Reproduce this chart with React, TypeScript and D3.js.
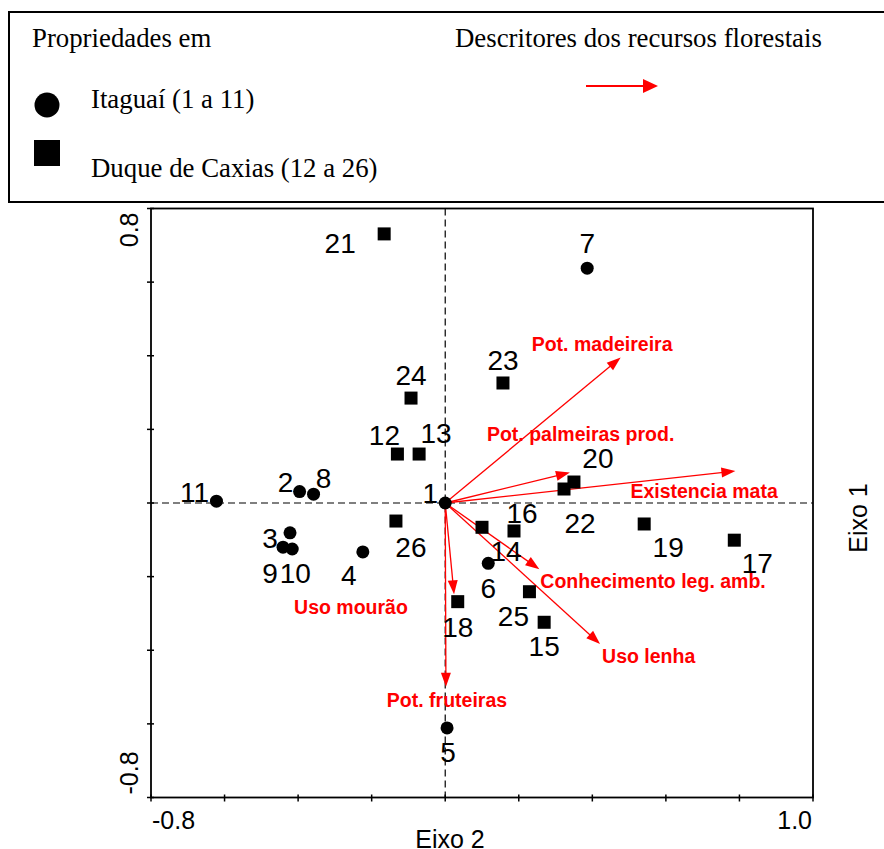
import React from "react";
import * as d3 from "d3";

// ---------- Data ----------
const itaguaiIds = [1, 2, 3, 4, 5, 6, 7, 8, 9, 10, 11];
const itaguaiX = [0.0, -0.396, -0.422, -0.224, 0.005, 0.117, 0.386, -0.358, -0.441, -0.416, -0.622];
const itaguaiY = [0.0, 0.031, -0.081, -0.133, -0.611, -0.164, 0.638, 0.024, -0.12, -0.125, 0.005];

const caxiasIds = [12, 13, 14, 15, 16, 17, 18, 19, 20, 21, 22, 23, 24, 25, 26];
const caxiasX = [-0.13, -0.071, 0.1, 0.269, 0.187, 0.786, 0.034, 0.541, 0.35, -0.166, 0.323, 0.157, -0.093, 0.229, -0.134];
const caxiasY = [0.133, 0.133, -0.066, -0.324, -0.076, -0.101, -0.268, -0.057, 0.057, 0.731, 0.038, 0.326, 0.285, -0.241, -0.049];

const descriptorNames = [
  "Pot. madeireira",
  "Pot. palmeiras prod.",
  "Existencia mata",
  "Conhecimento leg. amb.",
  "Uso lenha",
  "Pot. fruteiras",
  "Uso mourão",
];
const descriptorX = [0.477, 0.339, 0.789, 0.256, 0.421, 0.002, 0.024];
const descriptorY = [0.395, 0.083, 0.087, -0.18, -0.383, -0.499, -0.248];

const xTickLabels = ["-0.8", "1.0"];
const yTickLabels = ["0.8", "-0.8"];

const legendTitleLeft = "Propriedades em";
const legendTitleRight = "Descritores dos recursos florestais";
const legendItaguai = "Itaguaí (1 a 11)";
const legendCaxias = "Duque de Caxias (12 a 26)";
const xAxisTitle = "Eixo 2";
const yAxisTitle = "Eixo 1";

// ---------- Layout (label offsets in px, relative to the mark) ----------
const pointLabelOffsets: Record<number, [number, number]> = {
  1: [-15, 0], 2: [-14, 0], 3: [-20, 15], 4: [-14, 33], 5: [1, 34], 6: [0, 35],
  7: [0, -15], 8: [10, -6], 9: [-13, 36], 10: [3, 34], 11: [-22, 1],
  12: [-13, -9], 13: [17, -11], 14: [24, 34], 15: [0, 34], 16: [8, -8],
  17: [23, 33], 18: [0, 35], 19: [24, 33], 20: [24, -14], 21: [-44, 19],
  22: [16, 44], 23: [0, -13], 24: [0, -13], 25: [-16, 34], 26: [15, 36],
};
const descLabelLayout: [number, number, "start" | "middle"][] = [
  [-89, -7, "start"],
  [-83, -31, "start"],
  [-105, 27, "start"],
  [1, 19, "start"],
  [2, 19, "start"],
  [1, 20, "middle"],
  [-160, 20, "start"],
];

const W = 884;
const H = 849;
const left = 151, right = 813, top = 208.5, bottom = 797.5;
const RED = "#ff0000";
const SANS = "'Liberation Sans', Arial, sans-serif";
const SERIF = "'Liberation Serif', 'Times New Roman', serif";
const LEGEND_FS = 26.8;

function arrowHead(x0: number, y0: number, x1: number, y1: number, len = 14, half = 5) {
  const a = Math.atan2(y1 - y0, x1 - x0);
  const bx = x1 - len * Math.cos(a), by = y1 - len * Math.sin(a);
  const px = -Math.sin(a) * half, py = Math.cos(a) * half;
  return `M${x1},${y1}L${bx + px},${by + py}L${bx - px},${by - py}Z`;
}

export default function App() {
  const x = d3.scaleLinear().domain([-0.8, 1.0]).range([left, right]);
  const y = d3.scaleLinear().domain([-0.8, 0.8]).range([bottom, top]);
  const xTicks = d3.range(0, 10).map((i) => -0.8 + i * 0.2);
  const yTicks = d3.range(0, 9).map((i) => -0.8 + i * 0.2);

  const circles = itaguaiIds.map((id, i) => ({ id, cx: x(itaguaiX[i]), cy: y(itaguaiY[i]) }));
  const squares = caxiasIds.map((id, i) => ({ id, cx: x(caxiasX[i]), cy: y(caxiasY[i]) }));
  const x0 = x(0), y0 = y(0);

  return (
    <svg
      width={W}
      height={H}
      style={{ position: "absolute", left: 0, top: 0, background: "#fff" }}
      xmlns="http://www.w3.org/2000/svg"
    >
      <rect x={0} y={0} width={W} height={H} fill="#fff" />
      {/* Legend box */}
      <rect x={9} y={12} width={900} height={190} fill="none" stroke="#000" strokeWidth={2} />
      <text x={32} y={47} fontFamily={SERIF} fontSize={LEGEND_FS} fill="#000">{legendTitleLeft}</text>
      <text x={455} y={47} fontFamily={SERIF} fontSize={LEGEND_FS} fill="#000">{legendTitleRight}</text>
      <circle cx={47} cy={105} r={12.5} fill="#000" />
      <text x={91} y={108} fontFamily={SERIF} fontSize={LEGEND_FS} fill="#000">{legendItaguai}</text>
      <rect x={34} y={140} width={26} height={26} fill="#000" />
      <text x={91} y={177} fontFamily={SERIF} fontSize={LEGEND_FS} fill="#000">{legendCaxias}</text>
      <line x1={586} y1={86} x2={646} y2={86} stroke={RED} strokeWidth={2} />
      <path d={arrowHead(586, 86, 658, 86, 15, 7)} fill={RED} />

      {/* Zero dashed lines */}
      <line x1={left} x2={right} y1={y0} y2={y0} stroke="#000" strokeWidth={1.2} strokeDasharray="7,4" />
      <line x1={x0} x2={x0} y1={top} y2={bottom} stroke="#000" strokeWidth={1.2} strokeDasharray="7,4" />

      {/* Frame */}
      <rect x={left} y={top} width={right - left} height={bottom - top} fill="none" stroke="#000" strokeWidth={1.8} />
      {xTicks.map((t, i) => (
        <line key={"xt" + i} x1={x(t)} x2={x(t)} y1={bottom - 3} y2={bottom + 4} stroke="#000" strokeWidth={1.5} />
      ))}
      {yTicks.map((t, i) => (
        <line key={"yt" + i} x1={left - 4} x2={left + 3} y1={y(t)} y2={y(t)} stroke="#000" strokeWidth={1.5} />
      ))}
      <text x={left + 1} y={829} fontFamily={SANS} fontSize={25} textAnchor="start">{xTickLabels[0]}</text>
      <text x={right - 1} y={829} fontFamily={SANS} fontSize={25} textAnchor="end">{xTickLabels[1]}</text>
      <text transform={`translate(138,${top + 4}) rotate(-90)`} fontFamily={SANS} fontSize={25} textAnchor="end">{yTickLabels[0]}</text>
      <text transform={`translate(138,${bottom - 3}) rotate(-90)`} fontFamily={SANS} fontSize={25} textAnchor="start">{yTickLabels[1]}</text>
      <text x={450} y={848} fontFamily={SANS} fontSize={25} textAnchor="middle">{xAxisTitle}</text>
      <text transform={`translate(867,518) rotate(-90)`} fontFamily={SANS} fontSize={25} textAnchor="middle">{yAxisTitle}</text>

      {/* Descriptor arrows */}
      {descriptorNames.map((name, i) => {
        const tx = x(descriptorX[i]), ty = y(descriptorY[i]);
        const a = Math.atan2(ty - y0, tx - x0);
        const ex = tx - 12 * Math.cos(a), ey = ty - 12 * Math.sin(a);
        const [dx, dy, anchor] = descLabelLayout[i];
        return (
          <g key={name}>
            <line x1={x0} y1={y0} x2={ex} y2={ey} stroke={RED} strokeWidth={1.3} />
            <path d={arrowHead(x0, y0, tx, ty, 14, 5)} fill={RED} />
            <text x={tx + dx} y={ty + dy} fontFamily={SANS} fontSize={19.5} fontWeight="bold" fill={RED} textAnchor={anchor}>{name}</text>
          </g>
        );
      })}

      {/* Points */}
      {circles.map((p) => (
        <circle key={"c" + p.id} cx={p.cx} cy={p.cy} r={6.5} fill="#000" />
      ))}
      {squares.map((p) => (
        <rect key={"s" + p.id} x={p.cx - 6.5} y={p.cy - 6.5} width={13} height={13} fill="#000" />
      ))}
      {[...circles, ...squares].map((p) => {
        const [dx, dy] = pointLabelOffsets[p.id];
        return (
          <text key={"l" + p.id} x={p.cx + dx} y={p.cy + dy} fontFamily={SANS} fontSize={28} textAnchor="middle" fill="#000">
            {p.id}
          </text>
        );
      })}
    </svg>
  );
}
